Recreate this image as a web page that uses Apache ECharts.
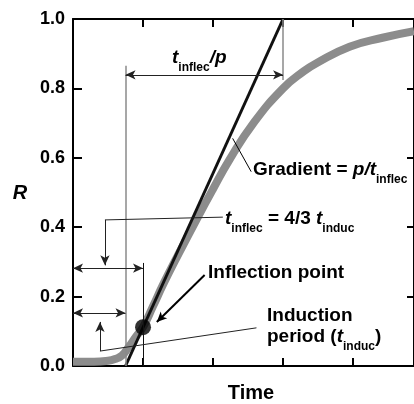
<!DOCTYPE html>
<html>
<head>
<meta charset="utf-8">
<script src="https://cdn.jsdelivr.net/npm/echarts@6/dist/echarts.min.js"></script>
<style>
html, body { margin: 0; padding: 0; background: #fff; }
#main { width: 414px; height: 404px; }
</style>
</head>
<body>
<div id="main"></div>
<script>
// gray S-curve (Time, R)
var curveT = [0, 0.3, 0.5, 0.6, 0.7, 0.8, 0.9, 1.0, 1.14, 1.29, 1.5, 1.785, 2.0, 2.24, 2.57, 3.0, 3.3, 3.47, 3.95, 4.42, 4.87];
var curveR = [0.012, 0.012, 0.015, 0.02, 0.03, 0.056, 0.085, 0.112, 0.171, 0.236, 0.32, 0.43, 0.51, 0.596, 0.698, 0.80, 0.85, 0.872, 0.92, 0.946, 0.965];
// tangent at the inflection point
var tangentT = [0.75, 3.0];
var tangentR = [0, 1.0];
// inflection point
var inflecT = [1.0];
var inflecR = [0.112];
// y tick labels
var yTickLabels = ['0.0', '0.2', '0.4', '0.6', '0.8', '1.0'];

var FONT = '"Liberation Sans", Arial, Helvetica, sans-serif';

function pairs(xs, ys) {
	return xs.map(function (x, i) { return [x, ys[i]]; });
}
// one annotation segment in data coords
function seg(a, b, color, width, s0, s1) {
	return [
		{ coord: a, symbol: s0 || 'none', lineStyle: { color: color, width: width, type: 'solid' } },
		{ coord: b, symbol: s1 || 'none' }
	];
}

var guides = [
	seg([0.75, 0], [0.75, 0.865], '#8a8a8a', 1.5),
	seg([3.0, 1.0], [3.0, 0.824], '#8a8a8a', 1.5),
	seg([1.0, 0], [1.0, 0.297], '#111', 1),
	seg([0.75, 0.839], [3.0, 0.839], '#222', 1, 'arrow', 'arrow'),
	seg([0, 0.282], [1.0, 0.282], '#222', 1, 'arrow', 'arrow'),
	seg([0, 0.153], [0.75, 0.153], '#222', 1, 'arrow', 'arrow'),
	seg([2.14, 0.429], [0.456, 0.421], '#222', 1),
	seg([0.456, 0.421], [0.456, 0.29], '#222', 1, 'none', 'arrow'),
	seg([2.62, 0.11], [0.385, 0.043], '#222', 1),
	seg([0.385, 0.043], [0.385, 0.127], '#222', 1, 'none', 'arrow'),
	seg([1.88, 0.262], [1.197, 0.127], '#000', 2, 'none', 'arrow'),
	seg([2.28, 0.656], [2.545, 0.56], '#000', 1)
];

function xAxisAt(pos) {
	return {
		type: 'value', position: pos, min: 0, max: 4.87, interval: 1,
		axisLine: { show: true, onZero: false, lineStyle: { color: '#000', width: 2 } },
		axisTick: { show: true, inside: true, length: 8, lineStyle: { color: '#000', width: 2 } },
		axisLabel: { show: false },
		splitLine: { show: false }
	};
}

var myChart = echarts.init(document.getElementById('main'));
var option = {
	animation: false,
	grid: { left: 73, top: 19, width: 342, height: 347 },
	xAxis: [ xAxisAt('bottom'), xAxisAt('top') ],
	yAxis: [
		{
			type: 'value', position: 'left', min: 0, max: 1, interval: 0.2,
			axisLine: { show: true, onZero: false, lineStyle: { color: '#000', width: 2 } },
			axisTick: { show: true, inside: true, length: 9, lineStyle: { color: '#000', width: 2 } },
			axisLabel: {
				margin: 8, color: '#000', fontFamily: FONT, fontSize: 18, fontWeight: 'bold',
				formatter: function (v) { return yTickLabels[Math.round(v * 5)]; }
			},
			splitLine: { show: false }
		},
		{
			type: 'value', position: 'right', min: 0, max: 1, interval: 0.2,
			axisLine: { show: true, onZero: false, lineStyle: { color: '#000', width: 2 } },
			axisTick: { show: true, inside: true, length: 7, lineStyle: { color: '#000', width: 2 } },
			axisLabel: { show: false },
			splitLine: { show: false }
		}
	],
	series: [
		{
			type: 'line', data: pairs(curveT, curveR), smooth: 0.5,
			showSymbol: false, sampling: 'none', lineStyle: { color: '#8c8c8c', width: 8, join: 'round', cap: 'butt' }, z: 2,
			markLine: {
				silent: true, symbolSize: [7, 10], animation: false,
				label: { show: false }, emphasis: { disabled: true },
				data: guides
			}
		},
		{
			type: 'line', data: pairs(tangentT, tangentR), showSymbol: false,
			lineStyle: { color: '#111', width: 3 }, z: 3
		},
		{
			type: 'scatter', data: pairs(inflecT, inflecR), symbolSize: 16,
			itemStyle: { color: '#000' }, z: 4
		}
	]
};
myChart.setOption(option);

// text labels
var rich = {
	b: { fontFamily: FONT, fontSize: 19, fontWeight: 'bold', verticalAlign: 'top', lineHeight: 20 },
	i: { fontFamily: FONT, fontSize: 19, fontWeight: 'bold', fontStyle: 'italic', verticalAlign: 'top', lineHeight: 20 },
	s: { fontFamily: FONT, fontSize: 12, fontWeight: 'bold', verticalAlign: 'middle', lineHeight: 39 }
};
function label(x, base, text) {
	return { type: 'text', x: x, y: base - 16, z: 10, style: { text: text, rich: rich, fill: '#000', align: 'left', verticalAlign: 'top' } };
}
myChart.setOption({
	graphic: [
		label(172, 64, '{i|t}{s|inflec}{i|/p}'),
		label(253, 176, '{b|Gradient = }{i|p/t}{s|inflec}'),
		label(225, 225, '{i|t}{s|inflec}{b| = 4/3 }{i|t}{s|induc}'),
		label(208, 279, '{b|Inflection point}'),
		label(267, 322, '{b|Induction}'),
		label(267, 343, '{b|period (}{i|t}{s|induc}{b|)}'),
		{ type: 'text', x: 251, y: 393, style: { text: 'Time', fill: '#000', font: 'bold 20px ' + FONT, align: 'center', verticalAlign: 'middle' } },
		{ type: 'text', x: 20, y: 193, style: { text: 'R', fill: '#000', font: 'italic bold 20px ' + FONT, align: 'center', verticalAlign: 'middle' } }
	]
});
</script>
</body>
</html>
